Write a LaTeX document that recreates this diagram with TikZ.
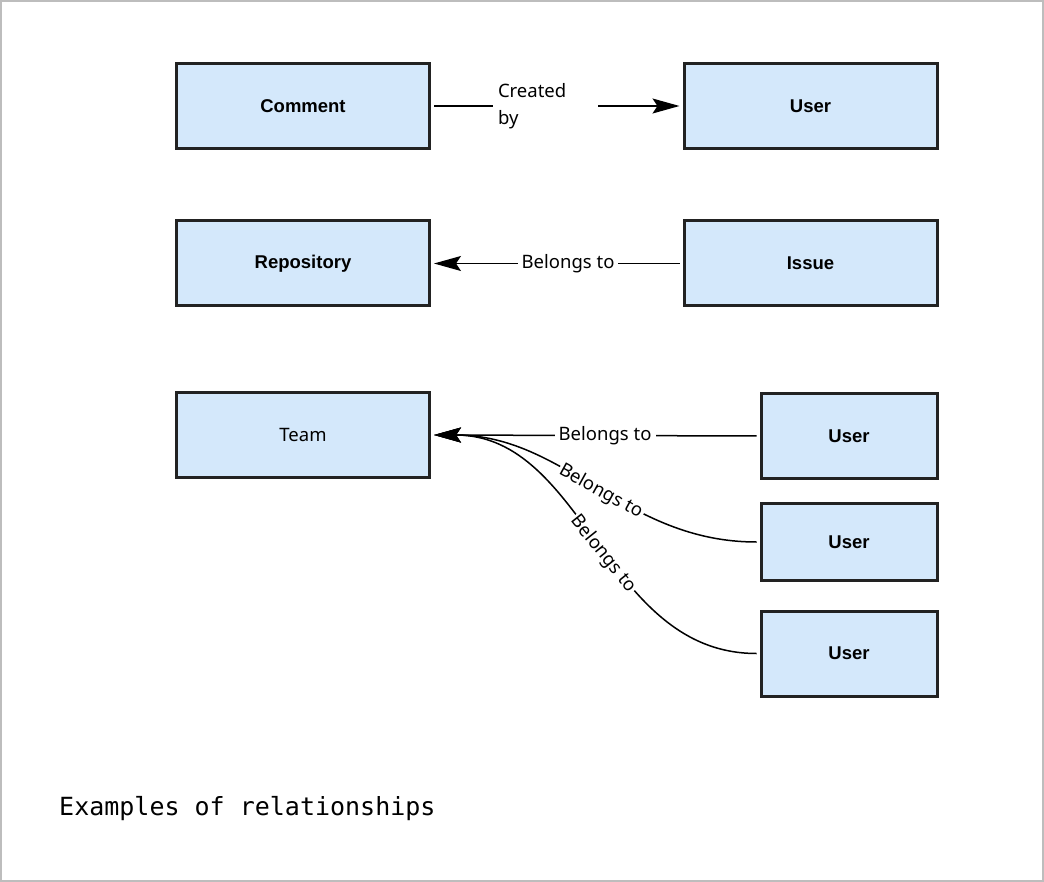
\documentclass[tikz,border=0pt]{standalone}
\usepackage{fontspec}
\setmainfont{Noto Sans}
\newfontfamily\boxfont{Liberation Sans}
\newfontfamily\capfont{DejaVu Sans Mono}
\usetikzlibrary{arrows.meta}
\definecolor{boxfill}{HTML}{D4E8FB}
\definecolor{boxline}{HTML}{222222}
\definecolor{framegray}{HTML}{BDBDBD}
\begin{document}
\begin{tikzpicture}[x=1pt,y=-1pt,
  entity/.style={draw=boxline, line width=3pt, fill=boxfill, inner sep=0pt,
    minimum width=253pt, minimum height=85pt,
    font=\boxfont\bfseries\fontsize{18.5}{22}\selectfont},
  plainentity/.style={entity, font=\fontsize{18.5}{22}\selectfont},
  smallentity/.style={entity, minimum width=176pt},
  tip/.style={-{Stealth[length=27pt, width=15pt, inset=5pt]}},
  rel/.style={line width=1.5pt, black, shorten <=3pt, shorten >=3pt},
  relarrow/.style={rel, tip},
  rellabel/.style={fill=white, inner sep=4pt, font=\fontsize{18.5}{27}\selectfont}
]
\useasboundingbox (0,0) rectangle (1044,882);
\draw[framegray, line width=2pt] (1,1) rectangle (1043,881);

\node[entity] (comment) at (303,106) {Comment};
\node[entity] (usertop) at (810.5,106) {User};
\node[entity] (repo) at (303,263.5) {Repository};
\node[entity] (issue) at (810.5,263.5) {Issue};
\node[plainentity] (team) at (303,435) {Team};
\node[smallentity] (ua) at (849,436) {User};
\node[smallentity, minimum height=77pt] (ub) at (849,542) {User};
\node[smallentity] (uc) at (849,653.5) {User};

% Comment -> User
\node[rellabel, text width=95pt, inner sep=5pt, align=left] (cb) at (545.5,106) {Created\\by};
\draw[line width=1.5pt, shorten <=3pt] (comment.east) -- (cb.west);
\draw[line width=1.5pt, shorten >=3pt, tip] (cb.east) -- (usertop.west);

% Issue -> Repository
\draw[relarrow] (issue.west) -- node[rellabel, pos=0.455]{Belongs to} (repo.east);

% Users -> Team
\draw[relarrow] (ua.west) -- node[rellabel, pos=0.47]{Belongs to} (team.east);
\draw[relarrow] (ub.west) to[out=180,in=0] node[rellabel, sloped, pos=0.48, inner sep=1.5pt]{Belongs to} (team.east);
\draw[relarrow] (uc.west) to[out=180,in=0] node[rellabel, sloped, pos=0.47, inner sep=1.5pt]{Belongs to} (team.east);

\node[anchor=base west, inner sep=0pt, font=\capfont\fontsize{25}{30}\selectfont] (caption) at (59,815) {Examples of relationships};
\end{tikzpicture}
\end{document}
